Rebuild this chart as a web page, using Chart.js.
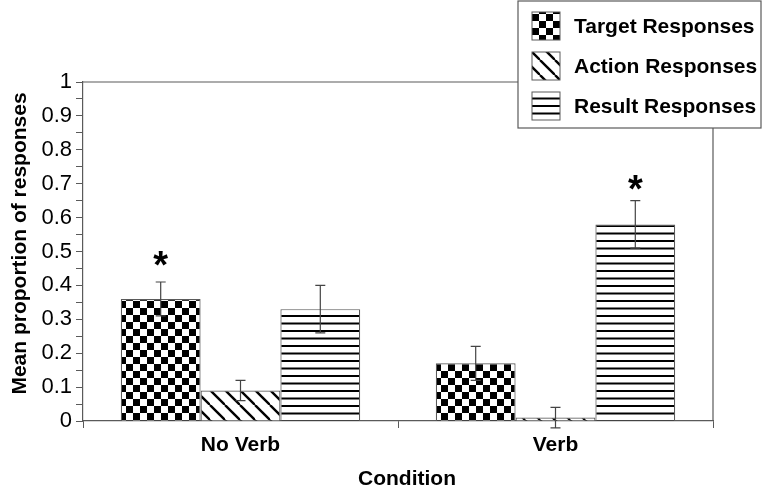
<!DOCTYPE html>
<html>
<head>
<meta charset="utf-8">
<script src="https://cdn.jsdelivr.net/npm/chart.js@4.4.1/dist/chart.umd.min.js"></script>
<style>
  html, body { margin: 0; padding: 0; background: #fff; }
  #wrap { width: 762px; height: 496px; }
</style>
</head>
<body>
<div id="wrap"><canvas id="chart"></canvas></div>
<script>
const conditions = ['No Verb', 'Verb'];
const seriesNames = ['Target Responses', 'Action Responses', 'Result Responses'];
const target = [0.36, 0.17];
const action = [0.09, 0.01];
const result = [0.33, 0.58];
const targetErr = [0.05, 0.05];
const actionErr = [0.03, 0.03];
const resultErr = [0.07, 0.07];
// asterisk heights (in data units) marking significant bars
const targetStar = [0.475, null];
const actionStar = [null, null];
const resultStar = [null, 0.70];

const FONT = '"Liberation Sans", Arial, sans-serif';
const EDGE = '#5a5a5a';

function tile(w, h, draw) {
  const c = document.createElement('canvas');
  c.width = w; c.height = h;
  const g = c.getContext('2d');
  g.fillStyle = '#fff';
  g.fillRect(0, 0, w, h);
  g.fillStyle = '#000';
  g.strokeStyle = '#000';
  draw(g, w, h);
  return c;
}

const ctx0 = document.createElement('canvas').getContext('2d');
const checker = ctx0.createPattern(tile(14, 14, (g) => {
  g.fillRect(0, 0, 7, 7);
  g.fillRect(7, 7, 7, 7);
}), 'repeat');
const diagonal = ctx0.createPattern(tile(15, 15, (g, s) => {
  g.lineWidth = 2.4;
  for (const k of [-s, 0, s]) {
    g.beginPath(); g.moveTo(k, 0); g.lineTo(k + s, s); g.stroke();
  }
}), 'repeat');
const stripes = ctx0.createPattern(tile(8, 15, (g) => {
  g.fillRect(0, 0, 8, 2);
  g.fillRect(0, 7.5, 8, 2);
}), 'repeat');

const fills = [checker, diagonal, stripes];
const values = [target, action, result];
const errs = [targetErr, actionErr, resultErr];
const stars = [targetStar, actionStar, resultStar];

const extras = {
  id: 'extras',
  beforeDatasetsDraw(chart) {
    const { ctx, chartArea: a } = chart;
    ctx.save();
    ctx.strokeStyle = EDGE;
    ctx.lineWidth = 1.2;
    ctx.beginPath();
    ctx.moveTo(a.left, a.top); ctx.lineTo(a.right, a.top); ctx.lineTo(a.right, a.bottom);
    ctx.stroke();
    ctx.restore();
  },
  afterDatasetsDraw(chart) {
    const { ctx, scales: { y } } = chart;
    ctx.save();
    chart.data.datasets.forEach((ds, i) => {
      chart.getDatasetMeta(i).data.forEach((bar, j) => {
        const v = ds.data[j], e = errs[i][j];
        const yt = y.getPixelForValue(v + e), yb = y.getPixelForValue(v - e);
        ctx.strokeStyle = '#444';
        ctx.lineWidth = 1.2;
        ctx.beginPath();
        ctx.moveTo(bar.x, yt); ctx.lineTo(bar.x, yb);
        ctx.moveTo(bar.x - 5, yt); ctx.lineTo(bar.x + 5, yt);
        ctx.moveTo(bar.x - 5, yb); ctx.lineTo(bar.x + 5, yb);
        ctx.stroke();
        const s = stars[i][j];
        if (s != null) {
          ctx.fillStyle = '#000';
          ctx.font = 'bold 38px ' + FONT;
          ctx.textAlign = 'center';
          ctx.textBaseline = 'middle';
          ctx.fillText('*', bar.x, y.getPixelForValue(s) + 8);
        }
      });
    });
    ctx.restore();
  },
  afterDraw(chart) {
    const { ctx, chartArea: a } = chart;
    ctx.save();
    // axis titles
    ctx.fillStyle = '#000';
    ctx.font = 'bold 21px ' + FONT;
    ctx.textAlign = 'center';
    ctx.textBaseline = 'middle';
    ctx.fillText('Condition', (a.left + a.right) / 2 + 9, a.bottom + 58);
    ctx.translate(20, (a.top + a.bottom) / 2 - 8);
    ctx.rotate(-Math.PI / 2);
    ctx.fillText('Mean proportion of responses', 0, 0);
    ctx.restore();

    // legend box
    ctx.save();
    const bx = 518, by = 1, bw = 243, bh = 127;
    ctx.fillStyle = '#fff';
    ctx.fillRect(bx, by, bw, bh);
    ctx.strokeStyle = EDGE;
    ctx.lineWidth = 1.2;
    ctx.strokeRect(bx, by, bw, bh);
    ctx.font = 'bold 21px ' + FONT;
    ctx.textAlign = 'left';
    ctx.textBaseline = 'middle';
    chart.data.datasets.forEach((ds, i) => {
      const sy = 12 + i * 40;
      ctx.fillStyle = ds.backgroundColor;
      ctx.fillRect(532, sy, 28, 28);
      ctx.strokeStyle = EDGE;
      ctx.lineWidth = 1;
      ctx.strokeRect(532, sy, 28, 28);
      ctx.fillStyle = '#000';
      ctx.fillText(ds.label, 574, sy + 15);
    });
    ctx.restore();
  },
};

new Chart(document.getElementById('chart'), {
  type: 'bar',
  data: {
    labels: conditions,
    datasets: seriesNames.map((name, i) => ({
      label: name,
      data: values[i],
      backgroundColor: fills[i],
      borderColor: EDGE,
      borderWidth: 1.2,
      categoryPercentage: 0.76,
      barPercentage: 1,
    })),
  },
  options: {
    responsive: true,
    maintainAspectRatio: false,
    animation: false,
    layout: { padding: { top: 82, right: 49, left: 0, bottom: 0 } },
    plugins: { legend: { display: false }, tooltip: { enabled: false } },
    scales: {
      x: {
        offset: true,
        grid: { offset: true, drawOnChartArea: false, tickLength: 7, color: EDGE },
        border: { color: EDGE, width: 1.2 },
        ticks: { color: '#000', font: { family: FONT, size: 21, weight: 'bold' }, padding: 5 },
        afterFit: (s) => { s.height = 75; },
      },
      y: {
        min: 0,
        max: 1,
        grid: { drawOnChartArea: false, tickLength: 7, color: EDGE },
        border: { color: EDGE, width: 1.2 },
        ticks: {
          stepSize: 0.05,
          autoSkip: false,
          color: '#000',
          padding: 4,
          font: { family: FONT, size: 22 },
          callback: (v) => (Math.round(v * 100) % 10 === 0 ? String(Number(v.toFixed(1))) : ''),
        },
        afterFit: (s) => { s.width = 83; },
      },
    },
  },
  plugins: [extras],
});
</script>
</body>
</html>
